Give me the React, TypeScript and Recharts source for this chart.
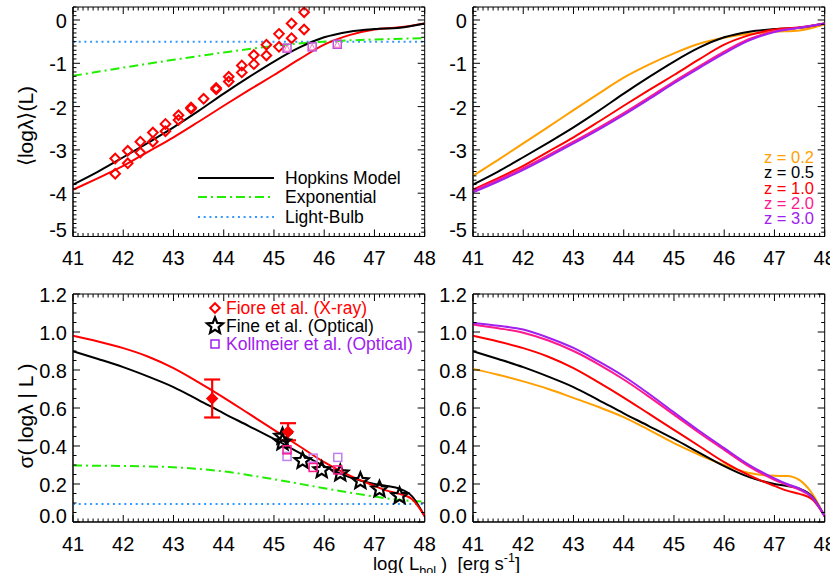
import React from "react";
import { ComposedChart, Line, Scatter, XAxis, YAxis, ReferenceArea, ErrorBar } from "recharts";

const FONT = '"Liberation Sans", Arial, Helvetica, sans-serif';

// log(L_bol) grid of the model curves, top row
const lumGrid = [41, 41.5, 42, 42.5, 43, 43.5, 44, 44.5, 45, 45.5, 46, 46.5, 47, 47.5, 48];
// <log lambda>(L) for each redshift
const meanZ02 = [-3.6, -3.23, -2.85, -2.47, -2.08, -1.7, -1.33, -1.03, -0.77, -0.55, -0.41, -0.32, -0.27, -0.24, -0.1];
const meanZ05 = [-3.8, -3.5, -3.17, -2.83, -2.48, -2.1, -1.7, -1.32, -0.96, -0.64, -0.4, -0.27, -0.21, -0.18, -0.08];
const meanZ10 = [-3.92, -3.65, -3.37, -3.04, -2.71, -2.35, -1.98, -1.62, -1.27, -0.91, -0.57, -0.35, -0.22, -0.17, -0.08];
const meanZ20 = [-3.94, -3.69, -3.42, -3.12, -2.81, -2.49, -2.15, -1.79, -1.42, -1.07, -0.73, -0.44, -0.26, -0.18, -0.08];
const meanZ30 = [-3.98, -3.73, -3.46, -3.16, -2.85, -2.53, -2.19, -1.83, -1.46, -1.11, -0.77, -0.47, -0.28, -0.18, -0.08];

const expLum = [41, 42, 43, 44, 45, 46, 47, 48];
const expMean = [-1.29, -1.1, -0.92, -0.75, -0.6, -0.5, -0.45, -0.42];
const bulbLum = [41, 48];
const bulbMean = [-0.5, -0.5];

// Fiore et al. points (top left)
const fioreLum = [41.84, 41.84, 42.09, 42.09, 42.34, 42.34, 42.59, 42.59, 42.84, 42.84, 43.1, 43.1, 43.35, 43.35, 43.6, 43.85, 43.85, 44.1, 44.1, 44.36, 44.36, 44.6, 44.6, 44.85, 44.85, 45.1, 45.1, 45.35, 45.35, 45.6, 45.6];
const fioreMean = [-3.2, -3.55, -3.02, -3.31, -2.81, -3.06, -2.6, -2.81, -2.4, -2.57, -2.2, -2.31, -2.02, -2.05, -1.82, -1.57, -1.6, -1.31, -1.42, -1.05, -1.21, -0.81, -1.02, -0.57, -0.82, -0.32, -0.62, -0.08, -0.42, 0.18, -0.22];
const kollLum = [45.26, 45.76, 46.26];
const kollMean = [-0.65, -0.62, -0.56];

// bottom row: sigma(log lambda | L)
const sigmaGrid = [41, 41.5, 42, 42.5, 43, 43.5, 44, 44.5, 45, 45.5, 46, 46.5, 47, 47.25, 47.5, 47.75, 48];
const sigZ02 = [0.806, 0.775, 0.74, 0.7, 0.653, 0.605, 0.552, 0.485, 0.415, 0.354, 0.3, 0.258, 0.243, 0.242, 0.22, 0.15, 0.03];
const sigZ05 = [0.899, 0.858, 0.815, 0.765, 0.71, 0.642, 0.572, 0.505, 0.437, 0.365, 0.294, 0.236, 0.2, 0.19, 0.175, 0.135, 0.03];
const sigZ10 = [0.98, 0.95, 0.915, 0.87, 0.81, 0.735, 0.655, 0.57, 0.485, 0.4, 0.315, 0.245, 0.19, 0.165, 0.148, 0.12, 0.03];
const sigZ20 = [1.04, 1.02, 0.996, 0.955, 0.9, 0.83, 0.75, 0.66, 0.565, 0.47, 0.38, 0.292, 0.222, 0.195, 0.169, 0.13, 0.03];
const sigZ30 = [1.048, 1.033, 1.013, 0.97, 0.916, 0.845, 0.767, 0.675, 0.577, 0.48, 0.389, 0.3, 0.23, 0.2, 0.175, 0.13, 0.03];

const expSigLum = [41, 42, 43, 44, 45, 46, 47, 47.5, 48];
const expSig = [0.297, 0.295, 0.288, 0.266, 0.225, 0.178, 0.134, 0.116, 0.107];
const bulbSig = [0.095, 0.095];

const fioreSigLum = [43.77, 45.28];
const fioreSig = [0.65, 0.475];
const fioreSigErr = [0.1, 0.045];
const fineLum = [45.17, 45.17, 45.57, 45.95, 46.32, 46.72, 47.1, 47.5];
const fineSig = [0.45, 0.42, 0.322, 0.274, 0.257, 0.216, 0.172, 0.137];
const kollSigLum = [45.26, 45.78, 46.27];
const kollSigA = [0.38, 0.287, 0.274];
const kollSigB = [0.345, 0.336, 0.34];

const xMajor = [41, 42, 43, 44, 45, 46, 47, 48];
const meanMajor = [-5, -4, -3, -2, -1, 0];
const sigMajor = [0, 0.2, 0.4, 0.6, 0.8, 1.0, 1.2];

const zLabels = ["z = 0.2", "z = 0.5", "z = 1.0", "z = 2.0", "z = 3.0"];
const zColors = ["#ff9f00", "#000000", "#ff0000", "#ff1a8c", "#a020f0"];
const topLegend = ["Hopkins Model", "Exponential", "Light-Bulb"];
const botLegend = ["Fiore et al. (X-ray)", "Fine et al. (Optical)", "Kollmeier et al. (Optical)"];

const pts = (xs: number[], ys: number[]) => xs.map((x, i) => ({ x, y: ys[i] }));
const range = (a: number, b: number, step: number) => {
  const out: number[] = [];
  for (let v = a; v <= b + 1e-9; v += step) out.push(Math.round(v * 1000) / 1000);
  return out;
};
const isIn = (v: number, list: number[]) => list.some((m) => Math.abs(m - v) < 1e-6);

function Diamond({ cx, cy, fill }: any) {
  const r = 4.8;
  return (
    <path d={`M${cx},${cy - r}L${cx + r},${cy}L${cx},${cy + r}L${cx - r},${cy}Z`}
      fill={fill || "none"} stroke="#ff0000" strokeWidth={2} />
  );
}

function Star({ cx, cy }: any) {
  const p: string[] = [];
  for (let i = 0; i < 10; i++) {
    const r = i % 2 === 0 ? 8.5 : 3.8;
    const a = -Math.PI / 2 + (i * Math.PI) / 5;
    p.push(`${cx + r * Math.cos(a)},${cy + r * Math.sin(a)}`);
  }
  return <polygon points={p.join(" ")} fill="none" stroke="#000" strokeWidth={2.2} strokeLinejoin="miter" />;
}

function Square({ cx, cy, stroke }: any) {
  return <rect x={cx - 4} y={cy - 4} width={8} height={8} fill="none" stroke={stroke} strokeWidth={1.5} />;
}

function SquareTri({ cx, cy }: any) {
  return (
    <g>
      <rect x={cx - 4} y={cy - 4} width={8} height={8} fill="none" stroke="#c050e0" strokeWidth={1.5} />
      <path d={`M${cx},${cy - 3}L${cx + 3},${cy + 3}L${cx - 3},${cy + 3}Z`} fill="none" stroke="#ff70c0" strokeWidth={1} />
    </g>
  );
}

type Box = { left: number; top: number; width: number; height: number };

function Panel({ box, yDomain, yMajor, yStep, digits, children }: {
  box: Box; yDomain: [number, number]; yMajor: number[]; yStep: number; digits: number; children: React.ReactNode;
}) {
  const padL = 60, padT = 10, padR = 10, padB = 40;
  const xTicks = range(41, 48, 0.1);
  const yTicks = range(yDomain[0], yDomain[1], yStep);

  const xTick = (p: any) => {
    const { x, y, payload } = p;
    const major = isIn(payload.value, xMajor);
    const len = major ? 7 : 3.5;
    return (
      <g>
        <line x1={x} x2={x} y1={y} y2={y - len} stroke="#000" />
        <line x1={x} x2={x} y1={y - box.height} y2={y - box.height + len} stroke="#000" />
        {major && (
          <text x={x} y={y + 22} textAnchor="middle" dominantBaseline="central" fontSize={20} fontFamily={FONT} fill="#000">
            {payload.value}
          </text>
        )}
      </g>
    );
  };

  const yTick = (p: any) => {
    const { x, y, payload } = p;
    const major = isIn(payload.value, yMajor);
    const len = major ? 7 : 3.5;
    const dy = Math.abs(payload.value - yDomain[0]) < 1e-6 ? -6 : 1;
    return (
      <g>
        <line x1={x} x2={x + len} y1={y} y2={y} stroke="#000" />
        <line x1={x + box.width} x2={x + box.width - len} y1={y} y2={y} stroke="#000" />
        {major && (
          <text x={x - 6} y={y + dy} textAnchor="end" dominantBaseline="central" fontSize={20} fontFamily={FONT} fill="#000">
            {payload.value.toFixed(digits)}
          </text>
        )}
      </g>
    );
  };

  return (
    <div style={{ position: "absolute", left: box.left - padL, top: box.top - padT }}>
      <ComposedChart
        width={box.width + padL + padR}
        height={box.height + padT + padB}
        margin={{ top: padT, right: padR, bottom: padB - 30, left: padL - 50 }}
      >
        <XAxis type="number" dataKey="x" domain={[41, 48]} ticks={xTicks} interval={0} allowDataOverflow
          height={30} tickLine={false} tickSize={0} tickMargin={0} axisLine={{ stroke: "#000" }} tick={xTick} />
        <YAxis type="number" dataKey="y" domain={yDomain} ticks={yTicks} interval={0} allowDataOverflow
          width={50} tickLine={false} tickSize={0} tickMargin={0} axisLine={{ stroke: "#000" }} tick={yTick} />
        <ReferenceArea x1={41} x2={48} y1={yDomain[0]} y2={yDomain[1]} fill="none" stroke="#000" strokeWidth={1} fillOpacity={0} />
        {children}
      </ComposedChart>
    </div>
  );
}

const curve = (xs: number[], ys: number[], color: string, extra: any = {}) => (
  <Line data={pts(xs, ys)} dataKey="y" type="monotone" stroke={color} strokeWidth={2} dot={false}
    activeDot={false} isAnimationActive={false} {...extra} />
);

const GREEN = "#22ee00";
const BLUE = "#3399ff";

export default function App() {
  const topL: Box = { left: 73.3, top: 7, width: 351.7, height: 229.5 };
  const topR: Box = { left: 473.3, top: 7, width: 351.7, height: 229.5 };
  const botL: Box = { left: 73.3, top: 294, width: 351.7, height: 228 };
  const botR: Box = { left: 473.3, top: 294, width: 351.7, height: 228 };
  const txt = { fontFamily: FONT, fontSize: 17.5 };

  return (
    <div style={{ position: "absolute", left: 0, top: 0, width: 830, height: 573, background: "#fff", overflow: "hidden" }}>
      <style>{`.recharts-surface{overflow:visible}`}</style>

      <Panel box={topL} yDomain={[-5, 0.3]} yMajor={meanMajor} yStep={0.1} digits={0}>
        {curve(bulbLum, bulbMean, BLUE, { strokeDasharray: "2 3.7", type: "linear" })}
        {curve(expLum, expMean, GREEN, { strokeDasharray: "9 4 2 4" })}
        {curve(lumGrid, meanZ10, "#ff0000")}
        {curve(lumGrid, meanZ05, "#000000")}
        <Scatter data={pts(fioreLum, fioreMean)} dataKey="y" shape={<Diamond />} isAnimationActive={false} />
        <Scatter data={pts(kollLum, kollMean)} dataKey="y" shape={<SquareTri />} isAnimationActive={false} />
      </Panel>

      <Panel box={topR} yDomain={[-5, 0.3]} yMajor={meanMajor} yStep={0.1} digits={0}>
        {curve(lumGrid, meanZ02, zColors[0])}
        {curve(lumGrid, meanZ05, zColors[1])}
        {curve(lumGrid, meanZ10, zColors[2])}
        {curve(lumGrid, meanZ20, zColors[3])}
        {curve(lumGrid, meanZ30, zColors[4])}
      </Panel>

      <Panel box={botL} yDomain={[0, 1.2]} yMajor={sigMajor} yStep={0.05} digits={1}>
        {curve(bulbLum, bulbSig, BLUE, { strokeDasharray: "2 3.7", type: "linear" })}
        {curve(expSigLum, expSig, GREEN, { strokeDasharray: "9 4 2 4" })}
        {curve(sigmaGrid, sigZ05, "#000000")}
        {curve(sigmaGrid, sigZ10, "#ff0000")}
        <Scatter data={pts(kollSigLum, kollSigB)} dataKey="y" shape={<Square stroke="#c080f0" />} isAnimationActive={false} />
        <Scatter data={pts(fineLum, fineSig)} dataKey="y" shape={<Star />} isAnimationActive={false} />
        <Scatter data={pts(kollSigLum, kollSigA)} dataKey="y" shape={<Square stroke="#ff1a8c" />} isAnimationActive={false} />
        <Scatter data={pts(fioreSigLum, fioreSig).map((d, i) => ({ ...d, err: fioreSigErr[i] }))} dataKey="y"
          shape={<Diamond fill="#ff0000" />} isAnimationActive={false}>
          <ErrorBar dataKey="err" direction="y" width={8} stroke="#ff0000" strokeWidth={2.2} />
        </Scatter>
      </Panel>

      <Panel box={botR} yDomain={[0, 1.2]} yMajor={sigMajor} yStep={0.05} digits={1}>
        {curve(sigmaGrid, sigZ02, zColors[0])}
        {curve(sigmaGrid, sigZ05, zColors[1])}
        {curve(sigmaGrid, sigZ10, zColors[2])}
        {curve(sigmaGrid, sigZ20, zColors[3])}
        {curve(sigmaGrid, sigZ30, zColors[4])}
      </Panel>

      <svg width={830} height={573} style={{ position: "absolute", left: 0, top: 0, pointerEvents: "none" }}>
        {/* axis titles */}
        <text transform="translate(25,126) rotate(-90)" textAnchor="middle" dominantBaseline="central"
          fontFamily={FONT} fontSize={21}>
          ⟨logλ⟩(L)
        </text>
        <text transform="translate(25,416) rotate(-90)" textAnchor="middle" dominantBaseline="central"
          fontFamily={FONT} fontSize={21} style={{ whiteSpace: "pre" }}>
          σ( logλ | L )
        </text>
        <text x={373} y={570} fontFamily={FONT} fontSize={18.5} style={{ whiteSpace: "pre" }}>
          log( L<tspan fontSize={12.5} dy={5}>bol</tspan><tspan dy={-5}> )  [erg s</tspan>
          <tspan fontSize={12.5} dy={-8}>-1</tspan><tspan dy={8}>]</tspan>
        </text>

        {/* top-left legend */}
        {topLegend.map((label, i) => {
          const y = [178, 197, 217][i];
          const stroke = ["#000", GREEN, BLUE][i];
          const dash = [undefined, "9 4 2 4", "2 3.7"][i];
          return (
            <g key={label}>
              <line x1={198} x2={274} y1={y} y2={y} stroke={stroke} strokeWidth={2} strokeDasharray={dash} />
              <text x={285} y={y} dominantBaseline="central" {...txt}>{label}</text>
            </g>
          );
        })}

        {/* top-right redshift labels */}
        {zLabels.map((label, i) => (
          <text key={label} x={814} y={157 + i * 15.3} textAnchor="end" dominantBaseline="central" fill={zColors[i]}
            fontFamily={FONT} fontSize={16.5}>
            {label}
          </text>
        ))}

        {/* bottom-left legend */}
        {botLegend.map((label, i) => {
          const y = 308 + i * 18;
          const color = ["#ff0000", "#000000", "#a020f0"][i];
          return (
            <g key={label}>
              {i === 0 && <Diamond cx={215} cy={y} />}
              {i === 1 && <Star cx={215} cy={y} />}
              {i === 2 && <Square cx={215} cy={y} stroke="#a020f0" />}
              <text x={226} y={y} dominantBaseline="central" fill={color} {...txt}>{label}</text>
            </g>
          );
        })}
      </svg>
    </div>
  );
}
